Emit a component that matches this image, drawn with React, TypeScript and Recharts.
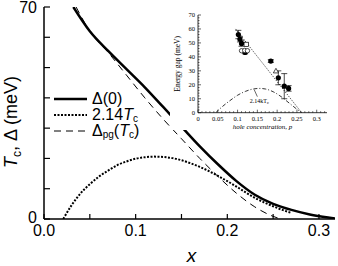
import React from "react";
import {
  LineChart,
  Line,
  XAxis,
  YAxis,
  ComposedChart,
  Scatter,
  ErrorBar,
  ReferenceLine,
  ReferenceDot,
  Label,
} from "recharts";

// ---- main panel: gap / Tc vs doping x ----
const delta0X = [0.032, 0.05, 0.07, 0.09, 0.11, 0.13, 0.15, 0.17, 0.19, 0.21, 0.23, 0.25, 0.27, 0.29, 0.31, 0.3175];
const delta0Y = [70, 62, 55.5, 49.5, 43.5, 37, 30.5, 24, 18, 12.5, 8, 5, 3, 1.5, 0.5, 0.2];

const tcX = [0.021, 0.03, 0.04, 0.05, 0.06, 0.07, 0.08, 0.09, 0.1, 0.11, 0.12, 0.13, 0.14, 0.15, 0.16, 0.17, 0.18, 0.19, 0.2, 0.21, 0.22, 0.23, 0.24, 0.25, 0.26, 0.27];
const tcY = [0, 4.5, 8.5, 11.5, 14, 16, 17.8, 19, 19.9, 20.4, 20.6, 20.5, 20.1, 19.4, 18.4, 17.2, 15.8, 14.2, 12.5, 10.7, 8.8, 7, 5.5, 4.2, 3, 2];

const pgX = [0.035, 0.05, 0.07, 0.09, 0.11, 0.13, 0.15, 0.17, 0.19, 0.21, 0.23, 0.245, 0.258];
const pgY = [70, 62, 55, 47.5, 40, 33, 26.5, 20, 14, 8.5, 4, 1.5, 0];

const mainXTicks = [0, 0.05, 0.1, 0.15, 0.2, 0.25, 0.3];
const mainYTicks = [0, 10, 20, 30, 40, 50, 60, 70];
const mainYLabels = [0, 70];

// ---- inset: energy gap vs hole concentration p ----
const filledP = [0.102, 0.106, 0.11, 0.119, 0.184, 0.203, 0.218, 0.229];
const filledGap = [56, 52.7, 49.6, 43.2, 37, 25, 19, 17.4];
const filledErr = [3, 2, 2, 1, 1, 5, 9, 2];
const squareP = [0.122];
const squareGap = [48.9];
const circleP = [0.11, 0.118, 0.125];
const circleGap = [44.4, 44.6, 44.4];
const triangleP = [0.197];
const triangleGap = [29.8];
const fitP = [0.095, 0.262];
const fitGap = [60, 0];
const domeP = [0.045, 0.06, 0.08, 0.1, 0.12, 0.14, 0.155, 0.17, 0.19, 0.21, 0.23, 0.25, 0.262];
const domeGap = [0, 4, 8.5, 12.5, 15.3, 17, 17.4, 17, 15, 11.5, 7, 2.5, 0];
const insetXLabels = ["0", "0.05", "0.1", "0.15", "0.2", "0.25", "0.3"];
const insetYLabels = [0, 10, 20, 30, 40, 50, 60, 70];

const sans = "'Liberation Sans', Arial, sans-serif";
const serif = "'Liberation Serif', 'Times New Roman', serif";

const toXY = (xs: number[], ys: number[]) => xs.map((x, i) => ({ x, y: ys[i] }));
const toPG = (ps: number[], gs: number[], es?: number[]) =>
  ps.map((p, i) => ({ p, gap: gs[i], err: es ? es[i] : 0 }));

const insetXTicks = Array.from({ length: 33 }, (_, i) => i / 100);
const insetYTicks = Array.from({ length: 36 }, (_, i) => i * 2);

const isMult = (v: number, step: number) => {
  const r = v / step;
  return Math.abs(r - Math.round(r)) < 1e-6;
};

// main axis ticks, drawn inward, labels outside
function MainBottomTick({ x, y, payload }: any) {
  const v = payload.value;
  return (
    <g>
      <line x1={x} x2={x} y1={y} y2={y - 5} stroke="#000" strokeWidth={1.2} />
      {isMult(v, 0.1) && (
        <text x={x} y={y + 17} textAnchor="middle" fontSize={16} fontFamily={sans} fill="#000">
          {v.toFixed(1)}
        </text>
      )}
    </g>
  );
}
function MainTopTick({ x, y }: any) {
  return <line x1={x} x2={x} y1={y} y2={y + 5} stroke="#000" strokeWidth={1.2} />;
}
function MainLeftTick({ x, y, payload }: any) {
  const v = payload.value;
  return (
    <g>
      <line x1={x} x2={x + 6} y1={y} y2={y} stroke="#000" strokeWidth={1.2} />
      {mainYLabels.includes(v) && (
        <text x={x - 7} y={y + (v === 0 ? 4 : 6)} textAnchor="end" fontSize={16} fontFamily={sans} fill="#000">
          {v}
        </text>
      )}
    </g>
  );
}
function MainRightTick({ x, y }: any) {
  return <line x1={x} x2={x - 6} y1={y} y2={y} stroke="#000" strokeWidth={1.2} />;
}

// inset ticks
function InsetBottomTick({ x, y, payload }: any) {
  const v = payload.value;
  const major = isMult(v, 0.05);
  const idx = Math.round(v / 0.05);
  return (
    <g>
      <line x1={x} x2={x} y1={y} y2={y - (major ? 3 : 1.5)} stroke="#000" strokeWidth={0.6} />
      {major && (
        <text x={x} y={y + 8} textAnchor="middle" fontSize={6.5} fontFamily={serif} fill="#000">
          {insetXLabels[idx]}
        </text>
      )}
    </g>
  );
}
function InsetTopTick({ x, y, payload }: any) {
  const major = isMult(payload.value, 0.05);
  return <line x1={x} x2={x} y1={y} y2={y + (major ? 3 : 1.5)} stroke="#000" strokeWidth={0.6} />;
}
function InsetLeftTick({ x, y, payload }: any) {
  const v = payload.value;
  const major = insetYLabels.includes(v);
  return (
    <g>
      <line x1={x} x2={x + (major ? 3 : 1.5)} y1={y} y2={y} stroke="#000" strokeWidth={0.6} />
      {major && (
        <text x={x - 3} y={y + 2.3} textAnchor="end" fontSize={6.5} fontFamily={serif} fill="#000">
          {v}
        </text>
      )}
    </g>
  );
}
function InsetRightTick({ x, y, payload }: any) {
  const major = insetYLabels.includes(payload.value);
  return <line x1={x} x2={x - (major ? 3 : 1.5)} y1={y} y2={y} stroke="#000" strokeWidth={0.6} />;
}

const FilledDot = ({ cx, cy }: any) => <circle cx={cx} cy={cy} r={2.6} fill="#000" />;
const OpenDot = ({ cx, cy }: any) => <circle cx={cx} cy={cy} r={2.2} fill="#fff" stroke="#000" strokeWidth={0.7} />;
const OpenSquare = ({ cx, cy }: any) => (
  <rect x={cx - 2.2} y={cy - 2.2} width={4.4} height={4.4} fill="#fff" stroke="#000" strokeWidth={0.7} />
);
const OpenTriangle = ({ cx, cy }: any) => (
  <path d={`M${cx},${cy - 2.8}L${cx + 2.6},${cy + 1.8}L${cx - 2.6},${cy + 1.8}Z`} fill="#fff" stroke="#000" strokeWidth={0.7} />
);

function Inset() {
  const axisLine = { stroke: "#000", strokeWidth: 0.8 };
  return (
    <div style={{ position: "absolute", left: 170, top: 9, width: 164, height: 121, background: "#fff" }}>
      <ComposedChart width={164} height={121} margin={{ top: 6, right: 7, left: 0, bottom: 0 }}>
        <XAxis
          xAxisId="b"
          type="number"
          dataKey="p"
          domain={[0, 0.326]}
          ticks={insetXTicks}
          interval={0}
          tickSize={0}
          tickMargin={0}
          tick={<InsetBottomTick />}
          axisLine={axisLine}
          height={17.3}
          allowDataOverflow
        >
          <Label
            content={({ viewBox }: any) => (
              <text
                x={viewBox.x + viewBox.width / 2}
                y={viewBox.y + 16}
                textAnchor="middle"
                fontSize={7}
                fontStyle="italic"
                fontFamily={serif}
                fill="#000"
              >
                hole concentration, p
              </text>
            )}
          />
        </XAxis>
        <XAxis
          xAxisId="t"
          orientation="top"
          type="number"
          dataKey="p"
          domain={[0, 0.326]}
          ticks={insetXTicks}
          interval={0}
          tickSize={0}
          tickMargin={0}
          tick={<InsetTopTick />}
          axisLine={axisLine}
          height={0}
          allowDataOverflow
        />
        <YAxis
          yAxisId="l"
          type="number"
          dataKey="gap"
          domain={[0, 70]}
          ticks={insetYTicks}
          interval={0}
          tickSize={0}
          tickMargin={0}
          tick={<InsetLeftTick />}
          axisLine={axisLine}
          width={28}
          allowDataOverflow
        >
          <Label
            content={({ viewBox }: any) => (
              <text
                transform={`translate(9.5,${viewBox.y + viewBox.height / 2}) rotate(-90)`}
                textAnchor="middle"
                fontSize={7.5}
                fontFamily={serif}
                fill="#000"
              >
                Energy gap (meV)
              </text>
            )}
          />
        </YAxis>
        <YAxis
          yAxisId="r"
          orientation="right"
          type="number"
          dataKey="gap"
          domain={[0, 70]}
          ticks={insetYTicks}
          interval={0}
          tickSize={0}
          tickMargin={0}
          tick={<InsetRightTick />}
          axisLine={axisLine}
          width={0}
          allowDataOverflow
        />
        <Line
          xAxisId="b"
          yAxisId="l"
          data={toPG(domeP, domeGap)}
          dataKey="gap"
          type="monotone"
          stroke="#000"
          strokeWidth={0.8}
          strokeDasharray="4 2 1 2"
          dot={false}
          isAnimationActive={false}
        />
        <Line
          xAxisId="b"
          yAxisId="l"
          data={toPG(fitP, fitGap)}
          dataKey="gap"
          type="linear"
          stroke="#000"
          strokeWidth={0.9}
          strokeDasharray="1 1.6"
          dot={false}
          isAnimationActive={false}
        />
        <ReferenceLine
          xAxisId="b"
          yAxisId="l"
          segment={[{ x: 0.142, y: 16.5 }, { x: 0.15, y: 11.5 }]}
          stroke="#000"
          strokeWidth={0.6}
        />
        <ReferenceDot
          xAxisId="b"
          yAxisId="l"
          x={0.131}
          y={8.5}
          r={0}
          label={({ viewBox }: any) => (
            <text x={viewBox.x} y={viewBox.y + 2} fontSize={6} fontFamily={serif} fill="#000">
              2.14kT<tspan fontSize={4.5} dy={1}>c</tspan>
            </text>
          )}
        />
        <Scatter
          xAxisId="b"
          yAxisId="l"
          data={toPG(filledP, filledGap, filledErr)}
          dataKey="gap"
          shape={<FilledDot />}
          isAnimationActive={false}
        >
          <ErrorBar dataKey="err" direction="y" width={3} stroke="#000" strokeWidth={0.7} />
        </Scatter>
        <Scatter xAxisId="b" yAxisId="l" data={toPG(squareP, squareGap)} dataKey="gap" shape={<OpenSquare />} isAnimationActive={false} />
        <Scatter xAxisId="b" yAxisId="l" data={toPG(circleP, circleGap)} dataKey="gap" shape={<OpenDot />} isAnimationActive={false} />
        <Scatter xAxisId="b" yAxisId="l" data={toPG(triangleP, triangleGap)} dataKey="gap" shape={<OpenTriangle />} isAnimationActive={false} />
      </ComposedChart>
    </div>
  );
}

function LegendRow({ dash, width, text }: { dash?: string; width: number; text: React.ReactNode }) {
  return (
    <div style={{ display: "flex", alignItems: "center", height: 16 }}>
      <svg width={38} height={16}>
        <line x1={0} x2={33} y1={8} y2={8} stroke="#000" strokeWidth={width} strokeDasharray={dash} />
      </svg>
      <span style={{ fontFamily: sans, fontSize: 16, lineHeight: "16px", whiteSpace: "nowrap" }}>{text}</span>
    </div>
  );
}

const sub = { fontSize: 10, position: "relative" as const, top: 2, lineHeight: "10px" };

export default function App() {
  const axisLine = { stroke: "#000", strokeWidth: 1.5 };
  return (
    <div style={{ position: "absolute", left: 0, top: 0, width: 338, height: 266, background: "#fff" }}>
      <LineChart width={338} height={266} margin={{ top: 7, right: 3, left: 0, bottom: 0 }}>
        <XAxis
          xAxisId="b"
          type="number"
          dataKey="x"
          domain={[0, 0.3175]}
          ticks={mainXTicks}
          interval={0}
          tickSize={0}
          tickMargin={0}
          tick={<MainBottomTick />}
          axisLine={axisLine}
          height={47}
          allowDataOverflow
        >
          <Label
            content={({ viewBox }: any) => (
              <text
                x={viewBox.x + viewBox.width / 2 + 2}
                y={viewBox.y + 43}
                textAnchor="middle"
                fontSize={19}
                fontStyle="italic"
                fontFamily={sans}
                fill="#000"
              >
                x
              </text>
            )}
          />
        </XAxis>
        <XAxis
          xAxisId="t"
          orientation="top"
          type="number"
          dataKey="x"
          domain={[0, 0.3175]}
          ticks={mainXTicks}
          interval={0}
          tickSize={0}
          tickMargin={0}
          tick={<MainTopTick />}
          axisLine={axisLine}
          height={0}
          allowDataOverflow
        />
        <YAxis
          yAxisId="l"
          type="number"
          dataKey="y"
          domain={[0, 70]}
          ticks={mainYTicks}
          interval={0}
          tickSize={0}
          tickMargin={0}
          tick={<MainLeftTick />}
          axisLine={axisLine}
          width={44}
          allowDataOverflow
        >
          <Label
            content={({ viewBox }: any) => (
              <text
                transform={`translate(17,${viewBox.y + viewBox.height / 2 + 9}) rotate(-90)`}
                textAnchor="middle"
                fontSize={18}
                fontFamily={sans}
                fill="#000"
              >
                <tspan fontStyle="italic">T</tspan>
                <tspan fontSize={12} dy={4}>c</tspan>
                <tspan dy={-4}>, Δ (meV)</tspan>
              </text>
            )}
          />
        </YAxis>
        <YAxis
          yAxisId="r"
          orientation="right"
          type="number"
          dataKey="y"
          domain={[0, 70]}
          ticks={mainYTicks}
          interval={0}
          tickSize={0}
          tickMargin={0}
          tick={<MainRightTick />}
          axisLine={axisLine}
          width={0}
          allowDataOverflow
        />
        <Line
          xAxisId="b"
          yAxisId="l"
          data={toXY(pgX, pgY)}
          dataKey="y"
          type="monotone"
          stroke="#000"
          strokeWidth={1}
          strokeDasharray="7 5"
          dot={false}
          isAnimationActive={false}
        />
        <Line
          xAxisId="b"
          yAxisId="l"
          data={toXY(tcX, tcY)}
          dataKey="y"
          type="monotone"
          stroke="#000"
          strokeWidth={2}
          strokeDasharray="2 1.5"
          dot={false}
          isAnimationActive={false}
        />
        <Line
          xAxisId="b"
          yAxisId="l"
          data={toXY(delta0X, delta0Y)}
          dataKey="y"
          type="monotone"
          stroke="#000"
          strokeWidth={2.5}
          dot={false}
          isAnimationActive={false}
        />
      </LineChart>
      <div style={{ position: "absolute", left: 54, top: 91 }}>
        <LegendRow width={2.5} text="Δ(0)" />
        <LegendRow
          width={2}
          dash="2 1.5"
          text={
            <>
              2.14<i>T</i>
              <span style={sub}>c</span>
            </>
          }
        />
        <LegendRow
          width={1}
          dash="7 5"
          text={
            <>
              Δ<span style={sub}>pg</span>(<i>T</i>
              <span style={sub}>c</span>)
            </>
          }
        />
      </div>
      <Inset />
    </div>
  );
}
